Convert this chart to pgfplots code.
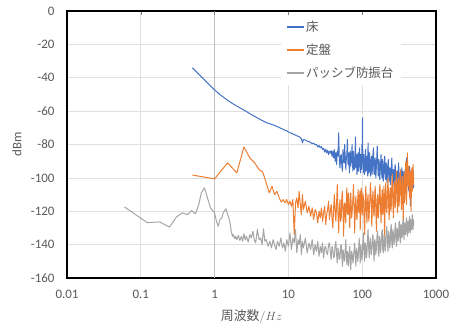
\documentclass[border=0pt]{standalone}
\usepackage{fontspec}
\setmainfont{Carlito}
\newfontfamily\jp{Noto Sans CJK JP}
\newfontfamily\jpg[Color=595959]{Noto Sans CJK JP}
\usepackage{pgfplots}
\pgfplotsset{compat=1.18}
\definecolor{cblue}{RGB}{68,114,196}
\definecolor{corange}{RGB}{237,125,49}
\definecolor{cgray}{RGB}{165,165,165}
\definecolor{ctext}{RGB}{89,89,89}
\begin{document}
\begin{tikzpicture}
\path[use as bounding box] (-67bp,-49bp) rectangle (384bp,278bp);
\begin{axis}[
  scale only axis, width=369bp, height=267bp,
  xmode=log, log basis x=10,
  xmin=0.01, xmax=1000, ymin=-160, ymax=0,
  xtick={0.01,0.1,1,10,100,1000},
  xticklabels={0.01,0.1,1,10,100,1000},
  ytick={-160,-140,-120,-100,-80,-60,-40,-20,0},
  yticklabels={-160,-140,-120,-100,-80,-60,-40,-20,0},
  xtick pos=upper, xticklabel pos=lower,
  tick align=inside,
  major tick length=4bp, minor tick length=4bp,
  ytick style={draw=none},
  xtick style={line width=0.5pt},
  grid=both,
  major grid style={draw=black!12, line width=0.6pt},
  minor grid style={draw=black!6, line width=0.5pt},
  ymajorgrids=true, yminorgrids=false,
  extra x ticks={1}, extra x tick labels={},
  extra x tick style={major grid style={draw=black!25, line width=0.7pt}},
  axis line style={line width=1.2pt},
  tick label style={font=\fontsize{13}{15}\selectfont, text=ctext},
  xticklabel style={yshift=-9bp},
  yticklabel style={xshift=-9bp},
  xlabel={{\jp 周波数}$/Hz$},
  ylabel={dBm},
  label style={font=\fontsize{13}{15}\selectfont, text=ctext},
  xlabel style={at={(axis description cs:0.5,0)}, anchor=north, yshift=-28bp},
  ylabel style={at={(axis description cs:0,0.5)}, anchor=south, yshift=42bp},
  legend style={draw=none, fill=white, at={(0.58,0.985)}, anchor=north west,
    font=\fontsize{12.5}{15}\selectfont, row sep=7bp, inner xsep=6bp, inner ysep=4bp},
  legend image code/.code={\fill[#1, draw=none] (0bp,-0.75bp) rectangle (17bp,0.75bp);},
  legend cell align=left,
  every axis plot/.append style={line width=1pt, line join=round},
]
\addplot[color=cblue] coordinates {
(0.5,-34)(0.6,-37.5)(0.7,-40.5)(0.8,-43)(0.9,-45.3)(1,-47.3)(1.2,-50.3)(1.5,-53.5)(1.8,-55.8)(2.2,-58)(2.6,-59.8)(3,-61.5)(3.5,-63.2)(4,-64.6)(4.5,-65.8)(5,-66.8)(5.5,-67.5)(6,-68)(6.5,-68.6)(7,-69.2)(7.5,-69.8)(8,-70.4)(8.5,-70.9)(9,-71.5)(9.5,-71.8)(10,-72.5)(11,-73.3)(12,-74)(13,-74.8)(14,-75.3)(15,-76.5)(15.5,-79)(16,-77)(17,-77.3)(18,-78)(19,-78.2)(20,-78.8)(21,-79.5)(22,-79.2)(23,-80.2)(24,-80)(25,-81.5)(26,-80.6)(27,-82)(28,-81.2)(29,-83)(30,-82.3)(31,-84.5)(32,-82.8)(33,-85)(34,-83.5)(35,-86)(36,-84)(37,-85.2)(38,-83.7)(39,-87)
(40,-84)(41,-88)(42,-83)(43,-90)(44,-85)(45,-92)(46,-84)(47,-87)(48,-73)(49,-89)(50,-94)(51,-87)(52,-86)(53,-93)(54,-96)(55,-83)(56,-90)(57,-91)(58,-80)(59,-89)(60,-95)(61,-88)(62,-86)(63,-77)(64,-91)(65,-92)(66,-85)(67,-97)(68,-89)(69,-84)(70,-93)(71,-90)(72,-86)(73,-80)(74,-92)(75,-96)(76,-84)(77,-88)(78,-95)(79,-93)(80,-87)(81,-75.5)(82,-94)(83,-91)(84,-86)(85,-98)(86,-90)(88,-85)(89,-96)(90,-94)(91,-87)(92,-82)(94,-93)(95,-97)(96,-86)(97,-88)(98,-95)(99,-80)(100,-91)(101,-64)(102,-89)(103,-92)(104,-97)(105,-86)(107,-93)(108,-98)(110,-88)(111,-83)(113,-96)(114,-95)(116,-87)(117,-89)(119,-99)(120,-79)(122,-92)(123,-97)(125,-88)(126,-85)(128,-95)(130,-99)(132,-90)(134,-87)(136,-98)(138,-93)(140,-86)(142,-82)(144,-96)(146,-98)(148,-90)(150,-88)(153,-100)(155,-95)(158,-87)(160,-81)(163,-94)(165,-99)(168,-89)(170,-90)(173,-101)(175,-97)(178,-91)(180,-86)(183,-96)(185,-100)(188,-89)(190,-92)(193,-102)(196,-98)(199,-90)(202,-87)(205,-97)(208,-101)(211,-91)(214,-93)(217,-103)(220,-99)(223,-92)(226,-89)(229,-98)(232,-102)(235,-95)(238,-94)(242,-104)(245,-100)(249,-93)(252,-88)(256,-99)(259,-103)(263,-96)(266,-95)(270,-105)(273,-101)(277,-94)(280,-92)(284,-100)(288,-105)(292,-97)(296,-96)(300,-106)(304,-102)(308,-95)(312,-91)(316,-101)(320,-104)(324,-98)(328,-97)(332,-107)(336,-106)(341,-99)(345,-94)(350,-102)(354,-103)(358,-96)(363,-98)(368,-108)(372,-107)(377,-100)(381,-95)(386,-103)(390,-104)(395,-97)(400,-88)(405,-100)(410,-102)(415,-94)(420,-97)(425,-106)(430,-108)(435,-99)(440,-93)(445,-103)(450,-117)(455,-98)(460,-100)(465,-107)(470,-96)(475,-101)(480,-105)(485,-95)(490,-99)(495,-106)(500,-104)
};
\addlegendentry{\jpg 床}
\addplot[color=corange] coordinates {
(0.5,-98.3)(1,-100.6)(1.5,-91)(2,-97)(2.5,-81.5)(3,-88)(3.5,-91)(4,-95)(4.5,-96.5)(5,-103)(5.5,-109)(6,-105)(6.5,-110)(7,-108)(7.5,-112)(8,-114.5)(8.5,-113)(9,-115)(9.5,-113)(10,-116)(10.5,-114)(11,-117)(11.5,-113)(12,-134)(12.5,-115)(13,-112)(13.5,-118)(14,-108)(14.5,-116)(15,-122)(15.5,-110)(16,-119)(17,-114)(18,-121)(19,-117)(20,-123)(21,-118)(22,-125)(23,-119)(24,-121)(25,-127)(26,-120)(27,-124)(28,-118)(29,-126)(30,-121)(31,-117)(32,-128)(33,-122)(34,-119)(35,-114)(36,-125)(37,-120)(38,-116)(39,-124)(40,-130)(41,-118)(42,-110)(43,-121)(44,-126)(45,-115)(46,-104)(47,-122)(48,-133)(49,-119)(50,-113)(51,-126)(52,-124)(53,-111)(54,-108)(55,-121)(56,-135)(57,-118)(58,-115)(59,-124)(60,-127)(61,-113)(62,-106)(63,-120)(64,-122)(65,-109)(66,-112)(67,-125)(68,-130)(69,-115)(70,-109)(72,-124)(73,-121)(75,-112)(76,-104)(78,-119)(79,-133)(81,-116)(82,-111)(84,-123)(85,-125)(87,-113)(88,-107)(90,-121)(91,-118)(93,-108)(94,-131)(96,-115)(97,-106)(99,-119)(100,-122)(102,-109)(104,-112)(106,-124)(108,-134)(110,-113)(112,-105)(114,-118)(116,-127)(118,-114)(120,-110)(123,-126)(125,-120)(128,-108)(130,-103)(133,-117)(135,-129)(138,-112)(140,-108)(143,-121)(145,-123)(148,-110)(150,-105)(153,-119)(156,-132)(159,-114)(162,-110)(165,-124)(168,-120)(171,-107)(174,-104)(177,-116)(180,-127)(184,-112)(187,-107)(190,-122)(194,-118)(197,-105)(201,-136)(205,-113)(208,-103)(212,-117)(216,-121)(220,-108)(224,-100)(228,-116)(232,-125)(236,-110)(240,-106)(244,-120)(248,-117)(252,-104)(256,-98)(260,-114)(265,-124)(270,-108)(274,-102)(279,-118)(283,-115)(288,-101)(292,-96)(297,-110)(301,-121)(306,-106)(310,-100)(315,-117)(320,-112)(325,-98)(330,-95)(335,-109)(340,-119)(345,-104)(350,-99)(355,-113)(360,-126)(365,-103)(370,-97)(375,-115)(380,-110)(385,-98)(390,-90)(395,-108)(400,-116)(405,-99)(410,-85)(415,-103)(420,-105)(425,-94)(430,-93)(435,-110)(440,-112)(445,-97)(450,-96)(455,-111)(460,-120)(465,-101)(470,-94)(475,-106)(480,-108)(485,-95)(490,-92)(495,-104)(500,-100)
};
\addlegendentry{\jpg 定盤}
\addplot[color=cgray] coordinates {
(0.06,-117.4)(0.122,-126.8)(0.18,-126.4)(0.245,-129.5)(0.305,-123.4)(0.365,-121)(0.43,-122)(0.49,-119.6)(0.55,-121.6)(0.61,-116)(0.66,-109)(0.73,-106)(0.8,-112)(0.88,-118)(0.94,-119.5)(1.0,-121)(1.06,-126)(1.12,-129)(1.18,-125)(1.25,-124)(1.31,-121)(1.37,-119.5)(1.43,-118.6)(1.5,-122)(1.56,-124)(1.62,-127)(1.68,-132)(1.75,-135)(1.8,-134)(1.87,-136.5)(1.93,-135)(2.0,-137)(2.1,-134.5)(2.2,-137.5)(2.3,-135)(2.4,-138)(2.5,-133.5)(2.6,-137)(2.7,-135)(2.85,-138.5)(3.0,-134)(3.15,-136)(3.3,-132)(3.45,-137)(3.6,-139)(3.8,-131)(4.0,-137)(4.2,-136)(4.4,-140)(4.6,-130.5)(4.8,-138)(5.0,-137)(5.3,-141)(5.6,-138)(5.9,-142)(6.2,-137)(6.5,-140)(6.8,-143)(7.1,-138)(7.5,-141)(7.9,-136)(8.3,-142)(8.7,-139)(9.1,-144)(9.5,-137)(10,-141)(10.5,-133)(11,-143)(11.5,-136)(12,-139)(12.5,-131)(13,-145)(13.5,-137)(14,-140)(14.5,-134)(15,-146)(15.5,-138)(16,-142)(17,-136)(18,-145)(19,-139)(20,-143)(21,-137)(22,-146)(23,-140)(24,-144)(25,-138)(26,-147)(27,-141)(28,-145)(29,-139)(30,-148)(31,-142)(32,-141)(33,-145)(34,-146)(35,-140)(36,-139)(37,-144)(38,-149)(39,-141)(40,-143)(41,-148)(42,-147)(43,-140)(44,-138)(45,-146)(46,-151)(47,-142)(48,-144)(49,-149)(50,-148)(51,-141)(52,-140)(53,-147)(54,-153)(55,-143)(56,-145)(57,-150)(58,-149)(59,-142)(60,-137)(61,-146)(62,-152)(63,-144)(64,-146)(65,-153)(66,-150)(67,-143)(68,-141)(69,-149)(70,-155)(72,-144)(73,-145)(75,-151)(76,-149)(78,-142)(79,-139)(81,-148)(82,-153)(84,-142)(85,-144)(87,-150)(88,-148)(90,-141)(91,-136)(93,-146)(94,-151)(96,-140)(97,-143)(99,-149)(100,-147)(102,-139)(104,-133)(106,-145)(108,-150)(110,-139)(112,-141)(114,-148)(116,-145)(118,-137)(120,-131)(123,-144)(125,-148)(128,-136)(130,-139)(133,-146)(135,-143)(138,-135)(140,-134)(143,-145)(145,-150)(148,-137)(150,-138)(153,-146)(156,-142)(159,-134)(162,-132)(165,-144)(168,-147)(171,-135)(174,-137)(177,-145)(180,-141)(184,-133)(187,-131)(190,-143)(194,-145)(197,-134)(201,-136)(205,-144)(208,-140)(212,-131)(216,-129)(220,-140)(224,-144)(228,-132)(232,-134)(236,-142)(240,-139)(244,-130)(248,-128)(252,-139)(256,-142)(260,-131)(265,-133)(270,-140)(274,-137)(279,-129)(283,-127)(288,-138)(292,-141)(297,-130)(301,-131)(306,-138)(310,-136)(315,-127)(320,-126)(325,-136)(330,-139)(335,-128)(340,-129)(345,-136)(350,-134)(355,-126)(360,-125)(365,-134)(370,-137)(375,-127)(380,-128)(385,-134)(390,-132)(395,-125)(400,-124)(405,-132)(410,-135)(415,-126)(420,-127)(425,-133)(430,-130)(435,-124)(440,-123)(445,-131)(450,-133)(455,-125)(460,-126)(465,-131)(470,-129)(475,-123)(480,-122)(485,-130)(490,-131)(495,-125)(500,-128)
};
\addlegendentry{\jpg パッシブ防振台}
\end{axis}
\end{tikzpicture}
\end{document}
